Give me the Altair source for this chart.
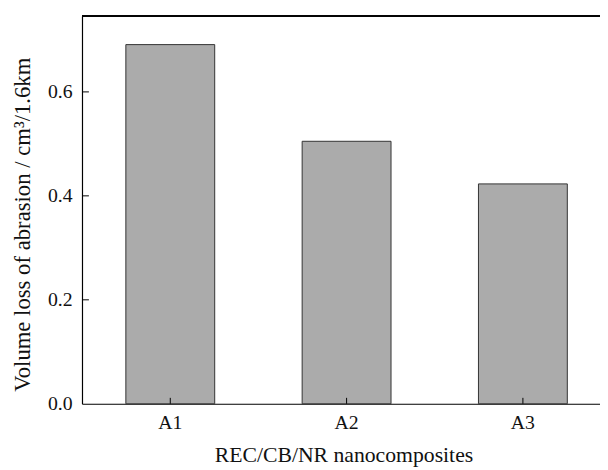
import altair as alt
import pandas as pd

samples = ["A1", "A2", "A3"]
volume_loss = [0.691, 0.505, 0.423]
y_ticks = [0.0, 0.2, 0.4, 0.6]

df = pd.DataFrame({"sample": samples, "loss": volume_loss})
ticks_df = pd.DataFrame({"t": y_ticks[1:]})

W, H = 525, 393
FONT = "Liberation Serif"

xscale = alt.Scale(domain=samples, paddingInner=0.496, paddingOuter=0.217, align=0.573)
yscale = alt.Scale(domain=[0, 0.746], nice=False, zero=True)

bars = alt.Chart(df).mark_bar(
    fill="#ababab", stroke="#333333", strokeWidth=1
).encode(
    x=alt.X("sample:N", scale=xscale, sort=samples,
            axis=alt.Axis(title="REC/CB/NR nanocomposites", labelAngle=0,
                          ticks=False, tickSize=0, labelPadding=9,
                          titlePadding=13, titleX=265, titleFontSize=22,
                          domainColor="black", domainWidth=1.2)),
    y=alt.Y("loss:Q", scale=yscale,
            axis=alt.Axis(title="Volume loss of abrasion / cm³/1.6km",
                          values=y_ticks, format=".1f", ticks=False, tickSize=0,
                          labelPadding=10, titlePadding=13, titleY=211,
                          titleFontSize=23, grid=False,
                          domainColor="black", domainWidth=1.2)),
)

xticks = alt.Chart(df).mark_rule(color="black", strokeWidth=1).encode(
    x=alt.X("sample:N", scale=xscale, sort=samples),
    y=alt.value(H), y2=alt.value(H - 6),
)

yticks = alt.Chart(ticks_df).mark_rule(color="black", strokeWidth=1).encode(
    y=alt.Y("t:Q", scale=yscale),
    x=alt.value(0), x2=alt.value(7),
)

top = alt.Chart(df).mark_rule(color="black", strokeWidth=1.6).encode(
    x=alt.value(0), x2=alt.value(W), y=alt.value(0)
)

chart = alt.layer(bars, xticks, yticks, top).properties(
    width=W, height=H,
    autosize=alt.AutoSizeParams(type="none"),
    padding={"left": 75, "top": 5, "right": 0, "bottom": 64},
).configure_view(stroke=None).configure_axis(
    labelFont=FONT, titleFont=FONT, labelFontSize=20,
    titleFontWeight="normal", labelColor="#111", titleColor="#111",
)

chart.save("out.html", embed_options={"renderer": "svg", "actions": False})
